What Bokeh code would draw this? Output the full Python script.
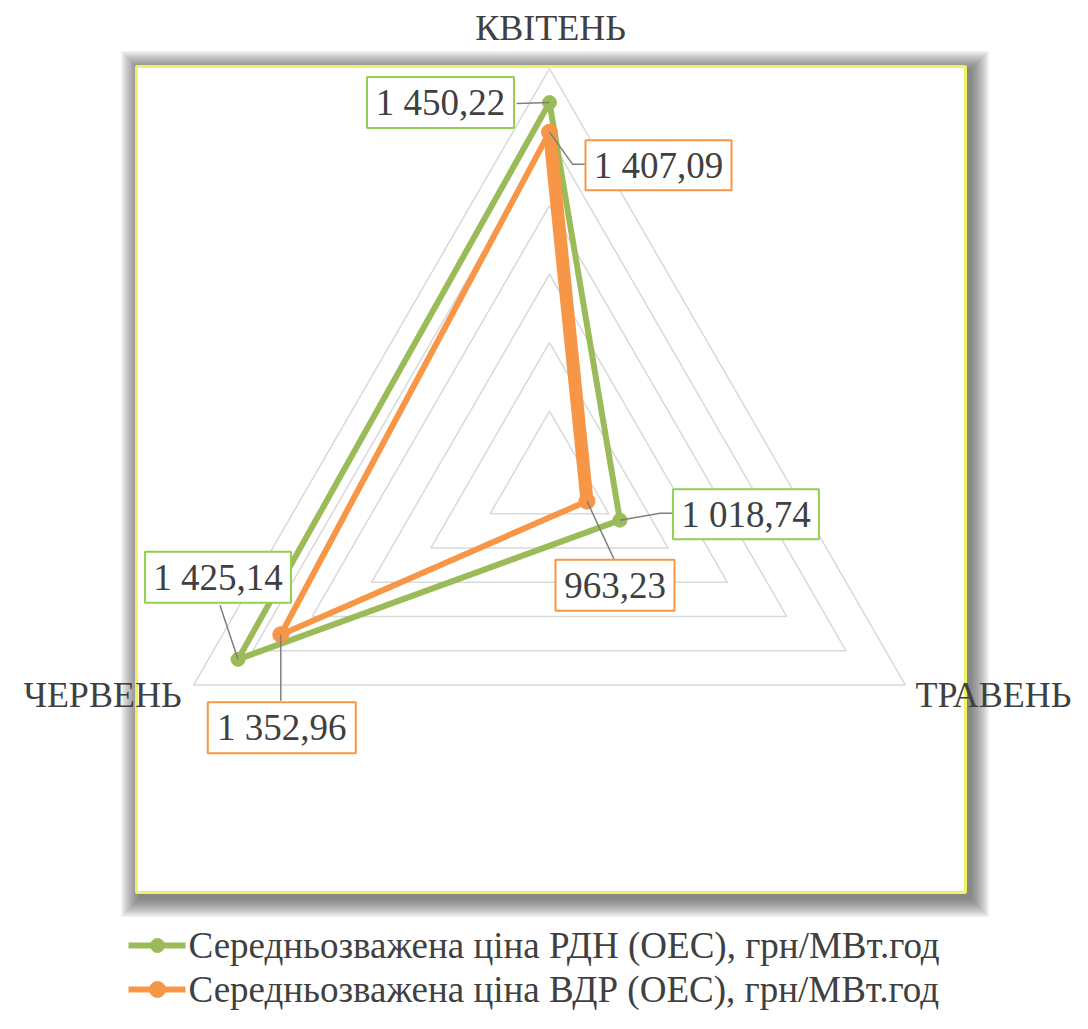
import numpy as np
from bokeh.plotting import figure
from bokeh.models import Range1d
from bokeh.embed import file_html
from bokeh.resources import INLINE
from bokeh.core.properties import value

# ---------------- data ----------------
categories = ["КВІТЕНЬ", "ТРАВЕНЬ", "ЧЕРВЕНЬ"]
rdn_values = [1450.22, 1018.74, 1425.14]
vdr_values = [1407.09, 963.23, 1352.96]
series_names = ["Середньозважена ціна РДН (ОЕС), грн/МВт.год",
                "Середньозважена ціна ВДР (ОЕС), грн/МВт.год"]
r_min, r_max, r_step = 900, 1500, 100

# ---------------- layout ----------------
W, H = 1072, 1013
CX, CY, R = 549.0, 479.0, 411.0   # px of radar centre and radius
FONT = value("Liberation Serif")
TXT = "#404040"
GREEN, ORANGE = "#9BBB59", "#F79646"
GREEN_BOX = "#92D050"


def px(x):
    return (x - CX) / R


def py(y):
    return (CY - y) / R


def d(pix):
    return pix / R


p = figure(width=W, height=H, output_backend="svg", toolbar_location=None,
           x_range=Range1d(px(0), px(W)), y_range=Range1d(py(H), py(0)),
           min_border=0, outline_line_color=None)
p.axis.visible = False
p.grid.visible = False
p.background_fill_color = "white"
p.border_fill_color = "white"

# plot-area shadow and frame
L, T, Rr, B = 136, 66, 965, 892
for i in range(12):
    e = 1.6 * i
    p.quad(left=px(L - e + 2), right=px(Rr + e + 6), top=py(T - e + 2), bottom=py(B + e + 7),
           fill_color="#383838", fill_alpha=0.07, line_color=None)
p.quad(left=px(L), right=px(Rr), top=py(T), bottom=py(B),
       fill_color="white", line_color="#F0F064", line_width=3)

# ---------------- radar geometry ----------------
angles = np.deg2rad([90, -30, 210])
n_levels = int((r_max - r_min) / r_step)


def to_xy(vals):
    r = (np.array(vals) - r_min) / (r_max - r_min)
    return list(r * np.cos(angles)), list(r * np.sin(angles))


for k in range(1, n_levels + 1):
    lv = k / n_levels
    xs = list(lv * np.cos(angles)) + [lv * np.cos(angles[0])]
    ys = list(lv * np.sin(angles)) + [lv * np.sin(angles[0])]
    p.line(xs, ys, line_color="#D9D9D9", line_width=1.5)

gx, gy = to_xy(rdn_values)
ox, oy = to_xy(vdr_values)

p.line(gx + [gx[0]], gy + [gy[0]], line_color=GREEN, line_width=6, line_join="round")
p.scatter(gx, gy, size=14, color=GREEN)
p.line(ox + [ox[0]], oy + [oy[0]], line_color=ORANGE, line_width=6, line_join="round")
p.line(ox[0:2], oy[0:2], line_color=ORANGE, line_width=13, line_cap="round")
p.scatter(ox, oy, size=16, color=ORANGE)

# category labels
cat_off = [(1, -41, "center"), (10, 10, "left"), (-12, 10, "right")]
for i, name in enumerate(categories):
    vx, vy = np.cos(angles[i]), np.sin(angles[i])
    dx, dy, al = cat_off[i]
    p.text([vx + d(dx)], [vy - d(dy)], text=[name], text_font=FONT, text_font_size="36px",
           text_align=al, text_baseline="middle", text_color=TXT)


def fmt(v):
    return f"{v:,.2f}".replace(",", " ").replace(".", ",")


# data labels: offsets of box centre (px, y down), box size, leader path offsets
lab_green = [((-109, 0), (147, 51), [(-33, 1)]),
             ((126, -6), (146, 50), [(40, -7), (52, -7)]),
             ((-20, -82), (146, 51), [(-18, -54)])]
lab_orange = [((109, 33), (146, 50), [(23, 32), (36, 32)]),
              ((28, 84), (119, 51), [(27, 58)]),
              ((1, 93), (148, 51), [(0, 66)])]

for xs, ys, vals, labs, col in [(gx, gy, rdn_values, lab_green, GREEN_BOX),
                               (ox, oy, vdr_values, lab_orange, ORANGE)]:
    for i in range(3):
        (cx, cy), (bw, bh), path = labs[i]
        lx = [xs[i]] + [xs[i] + d(a) for a, b in path]
        ly = [ys[i]] + [ys[i] - d(b) for a, b in path]
        p.line(lx, ly, line_color="#7F7F7F", line_width=1.5)
        bx, by = xs[i] + d(cx), ys[i] - d(cy)
        p.rect([bx], [by], width=d(bw), height=d(bh), fill_color="white",
               line_color=col, line_width=2)
        p.text([bx], [by], text=[fmt(vals[i])], text_font=FONT, text_font_size="37px",
               text_align="center", text_baseline="middle", text_color=TXT)

# legend (manual)
for j, (name, col, sz) in enumerate([(series_names[0], GREEN, 14), (series_names[1], ORANGE, 16)]):
    yy = py(945 + 44 * j)
    p.line([px(128), px(185)], [yy, yy], line_color=col, line_width=6)
    p.scatter([px(157)], [yy], size=sz, color=col)
    p.text([px(188)], [yy], text=[name], text_font=FONT, text_font_size="37px",
           text_align="left", text_baseline="middle", text_color=TXT)

open("out.html", "w").write(file_html(p, INLINE))
